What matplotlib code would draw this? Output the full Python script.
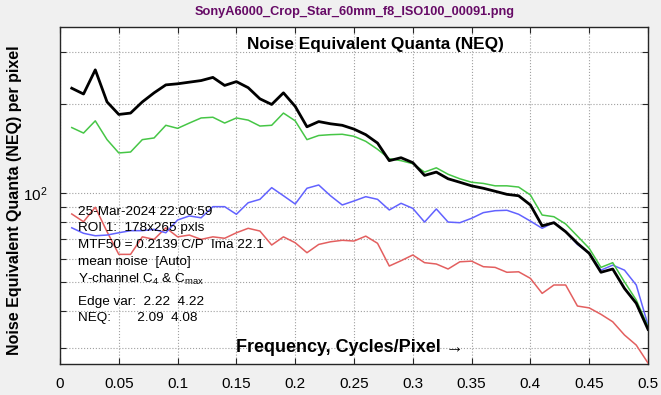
"""NEQ chart (Imatest-style) rebuilt with matplotlib."""
import matplotlib
matplotlib.use("Agg")
import matplotlib.pyplot as plt
from matplotlib import font_manager
from matplotlib.ticker import LogLocator, NullFormatter

plt.rcParams["font.family"] = ["Liberation Sans", "DejaVu Sans"]
plt.rcParams["mathtext.fontset"] = "custom"
plt.rcParams["mathtext.rm"] = "Liberation Sans"
plt.rcParams["mathtext.it"] = "Liberation Sans:italic"

# frequency, cycles/pixel
freq = [round(0.01 * i, 2) for i in range(1, 51)]

neq_y = [227, 217, 262, 204, 185, 187, 204, 219, 233, 235,
         238, 241, 247, 232, 239, 228, 209, 200, 219, 197,
         168, 175, 172, 170, 165, 158, 148, 129, 132, 127,
         115, 118, 112, 109, 106, 104, 101.6, 99.2, 98.1, 91.3,
         77.6, 79.5, 74.1, 67.7, 62.6, 54.0, 55.4, 47.6, 42.4, 34.6]
neq_g = [167, 160, 176, 152, 137, 138, 152, 154, 170, 166,
         173, 180, 181, 173, 180, 177, 169, 170, 187, 176,
         152, 157, 158, 158.5, 156, 150, 141, 131, 129, 126,
         118, 122, 116, 112, 109, 108, 106, 106, 105, 98.7,
         84.4, 83.3, 78.7, 71.6, 65.1, 56.1, 58.2, 50.1, 43.5, 35.3]
neq_b = [76.4, 73.2, 71.8, 72.2, 73.5, 74.7, 74.7, 75.5, 73.5, 81.2,
         83.8, 82.6, 90.1, 90.1, 84.9, 92.9, 95.4, 104.5, 98.1, 92.0,
         104, 106.7, 98.1, 91.3, 94.2, 97.4, 95.4, 87.8, 92.5, 88.9,
         79.9, 88.5, 79.9, 79.5, 82.3, 86.0, 87.3, 87.6, 84.9, 80.5,
         76.1, 79.7, 74.1, 67.1, 62.6, 54.9, 57.1, 54.9, 48.9, 35.8]
neq_r = [85.1, 80.1, 89.7, 74.1, 62.1, 62.1, 71.2, 69.8, 76.4, 71.2,
         72.2, 69.8, 71.2, 70.4, 73.5, 76.1, 74.5, 66.8, 71.2, 68.0,
         62.9, 67.1, 68.5, 69.3, 68.9, 71.6, 67.7, 56.7, 59.1, 61.8,
         58.2, 57.6, 55.4, 58.6, 58.9, 56.4, 56.1, 54.0, 54.2, 51.5,
         45.8, 48.9, 48.9, 41.5, 40.9, 38.9, 36.7, 33.1, 30.6, 26.6]

xticks = [0, 0.05, 0.1, 0.15, 0.2, 0.25, 0.3, 0.35, 0.4, 0.45, 0.5]
xticklabels = ["0", "0.05", "0.1", "0.15", "0.2", "0.25", "0.3", "0.35", "0.4", "0.45", "0.5"]

info_lines = ["25-Mar-2024 22:00:59",
              "ROI 1:  178x265 pxls",
              "MTF50 = 0.2139 C/P  Ima 22.1",
              "mean noise  [Auto]",
              "Y-channel C$_4$ & C$_{\\mathrm{max}}$",
              "Edge var:  2.22  4.22",
              "NEQ:       2.09  4.08"]

# narrow face for the file-name header, if the system has one
names = {f.name for f in font_manager.fontManager.ttflist}
if "Liberation Sans Narrow" in names:
    head_family, head_size = ["Liberation Sans Narrow", "DejaVu Sans"], 11
else:
    head_family, head_size = ["Liberation Sans", "DejaVu Sans"], 9.2

W, H = 661, 395
fig = plt.figure(figsize=(W / 100, H / 100), dpi=100, facecolor="#f0f0f0")
ax = fig.add_axes([60 / W, 1 - 364 / H, 588 / W, 337 / H])
ax.set_facecolor("white")

ax.plot(freq, neq_r, color="#e35f5f", lw=1.1, zorder=3)
ax.plot(freq, neq_b, color="#6262ff", lw=1.1, zorder=3)
ax.plot(freq, neq_g, color="#46c646", lw=1.1, zorder=4)
ax.plot(freq, neq_y, color="black", lw=2.0, zorder=5)

ax.set_yscale("log")
ax.set_xlim(0, 0.5)
ax.set_ylim(26.4, 366)
ax.set_xticks(xticks)
ax.set_xticklabels(xticklabels)
ax.yaxis.set_major_locator(LogLocator(base=10))
ax.yaxis.set_minor_locator(LogLocator(base=10, subs=range(2, 10)))
ax.yaxis.set_minor_formatter(NullFormatter())

ax.tick_params(which="both", direction="in", top=True, right=True,
               length=4.5, width=0.8, color="#262626", labelsize=11, pad=9)
ax.grid(True, which="major", axis="both", ls=":", lw=0.8, color="#a0a0a0")
ax.grid(True, which="minor", axis="y", ls=":", lw=0.8, color="#a0a0a0")
for sp in ax.spines.values():
    sp.set_color("#262626")
    sp.set_linewidth(1.0)

fig.text(355 / W, 1 - 12 / H, "SonyA6000_Crop_Star_60mm_f8_ISO100_00091.png",
         ha="center", va="center", fontsize=head_size, fontweight="bold",
         color="#660a66", family=head_family)
fig.text(375 / W, 1 - 45 / H, "Noise Equivalent Quanta (NEQ)",
         ha="center", va="center", fontsize=12.4, fontweight="bold")
fig.text(350 / W, 1 - 347 / H, "Frequency, Cycles/Pixel \u2192",
         ha="center", va="center", fontsize=13, fontweight="bold")
fig.text(15 / W, 1 - 200 / H, "Noise Equivalent Quanta (NEQ) per pixel",
         ha="center", va="center", rotation=90, fontsize=11.5, fontweight="bold")

line_y = [212, 228.5, 245, 262, 279, 301.5, 318.5]
for txt, yy in zip(info_lines, line_y):
    fig.text(78 / W, 1 - yy / H, txt, ha="left", va="center", fontsize=9.7)

fig.savefig("out.png", dpi=100, facecolor=fig.get_facecolor())
